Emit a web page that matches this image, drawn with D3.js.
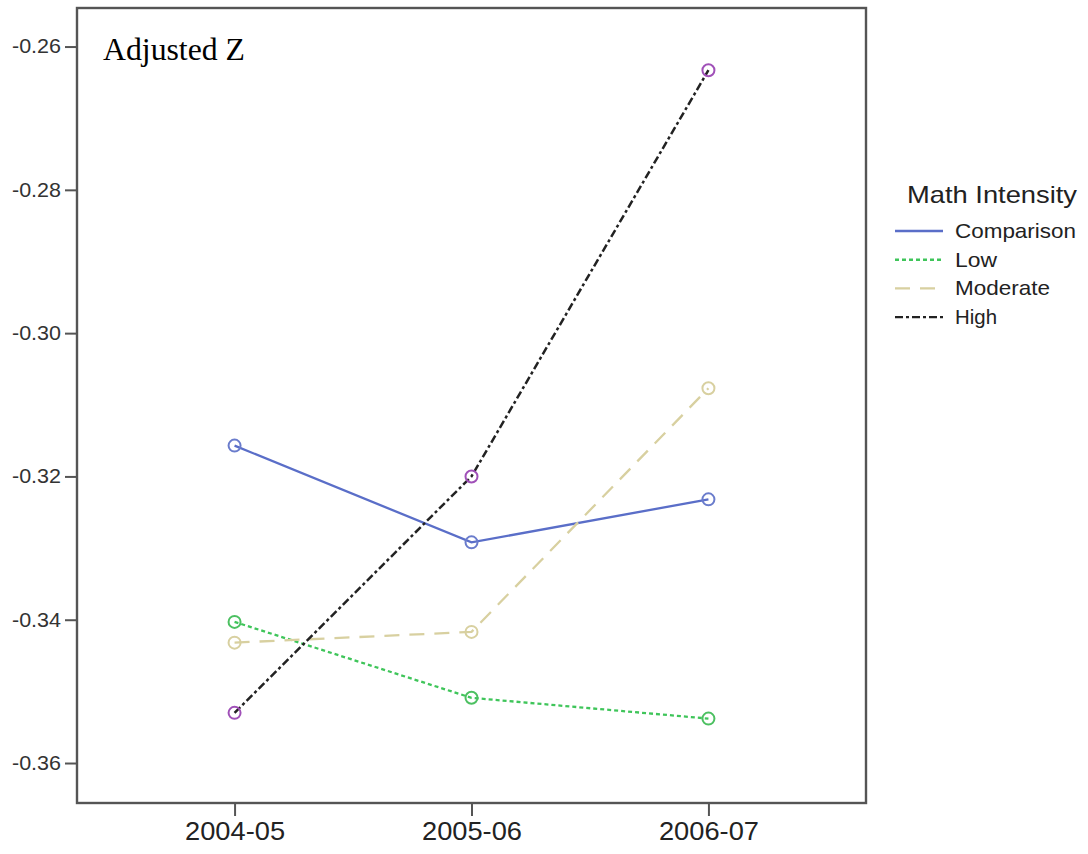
<!DOCTYPE html>
<html><head><meta charset="utf-8">
<script src="https://cdn.jsdelivr.net/npm/d3@7"></script>
<style>body{margin:0;background:#fff}</style>
</head><body>
<svg id="c" width="1088" height="854"></svg>
<script>
const years = ["2004-05", "2005-06", "2006-07"];
const seriesNames = ["Comparison", "Low", "Moderate", "High"];
const comparison = [-0.3157, -0.3292, -0.3232];
const low = [-0.3403, -0.3509, -0.3538];
const moderate = [-0.3432, -0.3417, -0.3077];
const high = [-0.3530, -0.3200, -0.2633];
const yTicks = [-0.26, -0.28, -0.30, -0.32, -0.34, -0.36];

const values = [comparison, low, moderate, high];
const lineColors = ["#5a6ec8", "#3fc55a", "#d8d0a0", "#222222"];
const markerColors = ["#6a7ccc", "#4cc061", "#d8d0a0", "#a050b8"];
const dashes = [null, "4,3", "15,10", "8,3,3,3"];
const legendWidths = [121, 42, 95, 42];

const svg = d3.select("#c");
const L = 77, R = 866, T = 8, B = 803;
const x = d3.scalePoint().domain(years).range([L, R]).padding(0.665);
const y = d3.scaleLinear().domain([-0.36558, -0.25462]).range([B, T]);
const fmt = d => d.toFixed(2);

// frame
svg.append("rect").attr("x", L).attr("y", T).attr("width", R - L).attr("height", B - T)
  .attr("fill", "none").attr("stroke", "#555").attr("stroke-width", 2.4);

// y axis
const ya = svg.append("g").attr("transform", `translate(${L},0)`)
  .call(d3.axisLeft(y).tickValues(yTicks).tickSize(12).tickSizeOuter(0).tickFormat(fmt));
ya.select(".domain").remove();
ya.selectAll("line").attr("stroke", "#555").attr("stroke-width", 2);
ya.selectAll("text").attr("font-family", "Arial, 'Liberation Sans', sans-serif").attr("font-size", 20)
  .attr("fill", "#333").attr("dx", -1).attr("textLength", 49).attr("lengthAdjust", "spacingAndGlyphs");

// x axis
const xa = svg.append("g").attr("transform", `translate(0,${B})`)
  .call(d3.axisBottom(x).tickSize(13).tickSizeOuter(0));
xa.select(".domain").remove();
xa.selectAll("line").attr("stroke", "#555").attr("stroke-width", 2);
xa.selectAll("text").attr("font-family", "Arial, 'Liberation Sans', sans-serif").attr("font-size", 25)
  .attr("fill", "#222").attr("dy", "0.85em").attr("textLength", 100).attr("lengthAdjust", "spacingAndGlyphs");

// lines
const line = d3.line().x((d, i) => x(years[i])).y(d => y(d));
values.forEach((vals, k) => {
  svg.append("path").datum(vals).attr("d", line).attr("fill", "none")
    .attr("stroke", lineColors[k]).attr("stroke-width", k === 3 ? 2.5 : 2.3)
    .attr("stroke-dasharray", dashes[k]);
});
values.forEach((vals, k) => {
  svg.selectAll(null).data(vals).enter().append("circle")
    .attr("cx", (d, i) => x(years[i])).attr("cy", d => y(d)).attr("r", 6)
    .attr("fill", "none").attr("stroke", markerColors[k]).attr("stroke-width", 2);
});

// title in plot
svg.append("text").attr("x", 103).attr("y", 60).text("Adjusted Z")
  .attr("font-family", "'Liberation Serif', 'Times New Roman', serif").attr("font-size", 31).attr("fill", "#000")
  .attr("textLength", 142).attr("lengthAdjust", "spacingAndGlyphs");

// legend
const lg = svg.append("g");
lg.append("text").attr("x", 907).attr("y", 203).text("Math Intensity")
  .attr("font-family", "Arial, 'Liberation Sans', sans-serif").attr("font-size", 24).attr("fill", "#222")
  .attr("textLength", 170).attr("lengthAdjust", "spacingAndGlyphs");
seriesNames.forEach((n, k) => {
  const yy = 231 + k * 28.7;
  lg.append("line").attr("x1", 895).attr("x2", 943).attr("y1", yy).attr("y2", yy)
    .attr("stroke", lineColors[k]).attr("stroke-width", 2.4).attr("stroke-dasharray", dashes[k]);
  lg.append("text").attr("x", 955).attr("y", yy + 7).text(n)
    .attr("font-family", "Arial, 'Liberation Sans', sans-serif").attr("font-size", 21).attr("fill", "#222")
    .attr("textLength", legendWidths[k]).attr("lengthAdjust", "spacingAndGlyphs");
});
</script>
</body></html>
